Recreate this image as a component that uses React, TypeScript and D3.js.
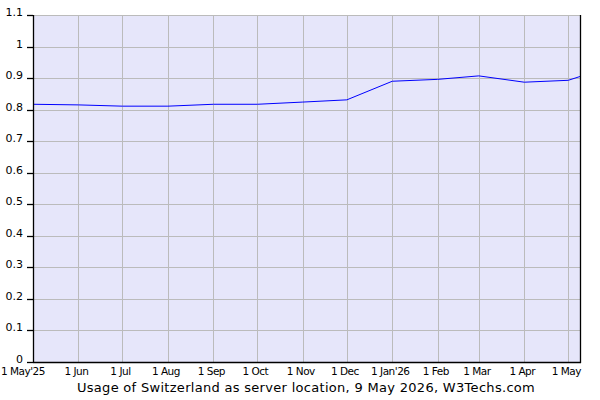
import React, { useEffect } from 'react';
import * as d3 from 'd3';

// Usage of Switzerland as server location (percent of websites)
const dates = [
  '2025-05-01', '2025-06-01', '2025-07-01', '2025-08-01', '2025-09-01', '2025-10-01',
  '2025-11-01', '2025-12-01', '2026-01-01', '2026-02-01', '2026-03-01', '2026-04-01',
  '2026-05-01', '2026-05-09',
];
const usage = [
  0.817, 0.815, 0.811, 0.811, 0.817, 0.817,
  0.824, 0.831, 0.890, 0.896, 0.907, 0.887,
  0.893, 0.905,
];
const monthTicks = [
  '2025-05-01', '2025-06-01', '2025-07-01', '2025-08-01', '2025-09-01', '2025-10-01',
  '2025-11-01', '2025-12-01', '2026-01-01', '2026-02-01', '2026-03-01', '2026-04-01',
  '2026-05-01',
];
const monthLabels = [
  "1 May'25", '1 Jun', '1 Jul', '1 Aug', '1 Sep', '1 Oct',
  '1 Nov', '1 Dec', "1 Jan'26", '1 Feb', '1 Mar', '1 Apr', '1 May',
];
const yTicks = [0, 0.1, 0.2, 0.3, 0.4, 0.5, 0.6, 0.7, 0.8, 0.9, 1, 1.1];
const title = 'Usage of Switzerland as server location, 9 May 2026, W3Techs.com';

const W = 600;
const H = 400;
const margin = { left: 33, right: 20, top: 15, bottom: 38 };

const parse = d3.utcParse('%Y-%m-%d');

const App: React.FC = () => {
  useEffect(() => {
    document.body.style.margin = '0';
  }, []);

  const x = d3.scaleUtc()
    .domain([parse('2025-05-01')!, parse('2026-05-09')!])
    .range([margin.left, W - margin.right]);
  const y = d3.scaleLinear()
    .domain([0, 1.1])
    .range([H - margin.bottom, margin.top]);

  const points = dates.map((d, i) => ({ date: parse(d)!, v: usage[i] }));
  const line = d3.line<{ date: Date; v: number }>()
    .x(d => x(d.date))
    .y(d => y(d.v));

  const x0 = margin.left;
  const x1 = W - margin.right;
  const y0 = H - margin.bottom;
  const y1 = margin.top;
  const font = "Verdana, 'DejaVu Sans', sans-serif";

  return (
    <svg width={W} height={H} style={{ display: 'block', background: '#fff' }} fontFamily={font}>
      <rect x={x0} y={y1} width={x1 - x0} height={y0 - y1} fill="#e6e6fa" />
      {/* horizontal grid */}
      {yTicks.map(t => (
        <line key={'h' + t} x1={x0} x2={x1} y1={Math.round(y(t)) + 0.5} y2={Math.round(y(t)) + 0.5}
          stroke="#bbbbbb" strokeWidth={1} />
      ))}
      {/* vertical grid */}
      {monthTicks.map(t => (
        <line key={'v' + t} x1={Math.round(x(parse(t)!)) + 0.5} x2={Math.round(x(parse(t)!)) + 0.5}
          y1={y1} y2={y0} stroke="#bbbbbb" strokeWidth={1} />
      ))}
      <path d={line(points) || ''} fill="none" stroke="#0000ff" strokeWidth={1} />
      {/* axes */}
      <line x1={x0 + 0.5} x2={x0 + 0.5} y1={y1} y2={y0 + 1} stroke="#000" strokeWidth={1.3} />
      <line x1={x0} x2={x1 + 1} y1={y0 + 0.5} y2={y0 + 0.5} stroke="#000" strokeWidth={1.3} />
      <line x1={x1 + 0.5} x2={x1 + 0.5} y1={y1} y2={y0 + 1} stroke="#000" strokeWidth={1.3} />
      {yTicks.map(t => (
        <g key={'yt' + t}>
          <line x1={x0 - 6} x2={x0} y1={Math.round(y(t)) + 0.5} y2={Math.round(y(t)) + 0.5}
            stroke="#000" strokeWidth={1.3} />
          <text x={x0 - 10} y={y(t) - 2} textAnchor="end" dominantBaseline="middle"
            fontSize={11} fill="#000">{d3.format('~g')(t)}</text>
        </g>
      ))}
      {monthTicks.map((t, i) => (
        <text key={'xl' + t} x={i === 0 ? 1 : x(parse(t)!) - 2} y={y0 + 13}
          textAnchor={i === 0 ? 'start' : 'middle'}
          fontSize={10.5} letterSpacing={-0.5} fill="#000">{monthLabels[i]}</text>
      ))}
      <text x={306} y={H - 8} textAnchor="middle" fontSize={13} letterSpacing={0.3} fill="#000">{title}</text>
    </svg>
  );
};

export default App;
